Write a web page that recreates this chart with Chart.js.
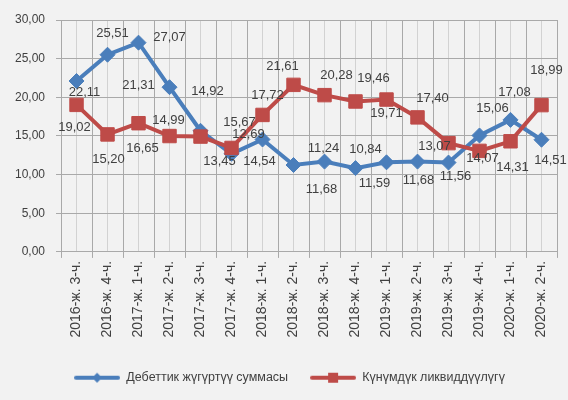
<!DOCTYPE html>
<html>
<head>
<meta charset="utf-8">
<script src="https://cdn.jsdelivr.net/npm/chart.js@4/dist/chart.umd.min.js"></script>
<style>
  html, body { margin: 0; padding: 0; background: #f2f2f2; }
  canvas { display: block; }
</style>
</head>
<body>
<canvas id="liquidityChart" width="568" height="400"></canvas>
<script>
// Chart data
const quarters = [
    '2016-ж. 3-ч.', '2016-ж. 4-ч.', '2017-ж. 1-ч.', '2017-ж. 2-ч.',
    '2017-ж. 3-ч.', '2017-ж. 4-ч.', '2018-ж. 1-ч.', '2018-ж. 2-ч.',
    '2018-ж. 3-ч.', '2018-ж. 4-ч.', '2019-ж. 1-ч.', '2019-ж. 2-ч.',
    '2019-ж. 3-ч.', '2019-ж. 4-ч.', '2020-ж. 1-ч.', '2020-ж. 2-ч.'
];
const debitTurnover = [22.11, 25.51, 27.07, 21.31, 15.67, 12.69, 14.54, 11.24,
                       11.68, 10.84, 11.59, 11.68, 11.56, 15.06, 17.08, 14.51];
const dailyLiquidity = [19.02, 15.20, 16.65, 14.99, 14.92, 13.45, 17.72, 21.61,
                        20.28, 19.46, 19.71, 17.40, 14.07, 13.07, 14.31, 18.99];
const yMin = 0, yMax = 30, yStep = 5;

// where each value label sits relative to its point (px), like the hand-moved labels in the original
const debitLabelShift = [[8, 11], [5, -21], [31, -5], [-31, -2], [39, -8], [17, -19], [-3, 22], [30, -17],
                         [-3, 28], [10, -19], [-12, 21], [1, 19], [7, 14], [13, -27], [4, -27], [9, 21]];
const liquidityLabelShift = [[-2, 23], [1, 25], [4, 25], [-1, -16], [7, -45], [-12, 13], [5, -20], [-11, -18],
                             [12, -20], [18, -23], [0, 14], [15, -19], [34, 15], [-45, -4], [2, 26], [5, -35]];

const BLUE = '#4a7ebb';
const RED = '#be4b48';
const TEXT = '#404040';
const FONT = "'Liberation Sans', Arial, sans-serif";

const fmt = v => v.toFixed(2).replace('.', ',');

// legend icon: line with marker in the middle
function legendIcon(color, shape) {
    const c = document.createElement('canvas');
    c.width = 46; c.height = 14;
    const g = c.getContext('2d');
    g.strokeStyle = color; g.lineWidth = 4; g.lineCap = 'round';
    g.beginPath(); g.moveTo(2, 7); g.lineTo(44, 7); g.stroke();
    g.fillStyle = color;
    if (shape === 'diamond') {
        g.beginPath(); g.moveTo(23, 2); g.lineTo(28, 7); g.lineTo(23, 12); g.lineTo(18, 7); g.closePath(); g.fill();
    } else {
        g.fillRect(18, 2, 10, 10);
    }
    return c;
}
const legendIcons = [legendIcon(BLUE, 'diamond'), legendIcon(RED, 'square')];

// value labels
const valueLabels = {
    id: 'valueLabels',
    afterLayout(chart) {
        // legend in the original sits a little right of centre
        chart.legend.left += 9;
        chart.legend.right += 9;
    },
    afterDatasetsDraw(chart) {
        const ctx = chart.ctx;
        const shifts = [debitLabelShift, liquidityLabelShift];
        ctx.save();
        ctx.font = '13px ' + FONT;
        ctx.fillStyle = TEXT;
        ctx.textAlign = 'center';
        ctx.textBaseline = 'middle';
        chart.data.datasets.forEach((ds, i) => {
            chart.getDatasetMeta(i).data.forEach((pt, j) => {
                const s = shifts[i][j];
                ctx.fillText(fmt(ds.data[j]), pt.x + s[0], pt.y + s[1]);
            });
        });
        ctx.restore();
    }
};

const ctx = document.getElementById('liquidityChart').getContext('2d');
const liquidityChart = new Chart(ctx, {
    type: 'line',
    data: {
        labels: quarters,
        datasets: [{
            label: 'Дебеттик жүгүртүү суммасы',
            data: debitTurnover,
            borderColor: BLUE,
            backgroundColor: BLUE,
            borderWidth: 4,
            pointStyle: 'rectRot',
            pointRadius: 7.5,
            pointBorderWidth: 1,
            order: 2
        }, {
            label: 'Күнүмдүк ликвиддүүлүгү',
            data: dailyLiquidity,
            borderColor: RED,
            backgroundColor: RED,
            borderWidth: 4,
            pointStyle: 'rect',
            pointRadius: 9.5,
            pointBorderWidth: 1,
            order: 1
        }]
    },
    options: {
        responsive: false,
        animation: false,
        layout: { padding: { top: 20, right: 11, left: 4, bottom: 6 } },
        scales: {
            x: {
                offset: true,
                afterFit: s => { s.height += 9; },
                grid: { offset: true, color: '#a9a9a9', tickColor: '#a9a9a9', tickLength: 6 },
                border: { color: '#a9a9a9' },
                ticks: {
                    autoSkip: false, minRotation: 90, maxRotation: 90,
                    color: TEXT, font: { family: FONT, size: 14 }, padding: 3
                }
            },
            xc: {
                type: 'category',
                labels: quarters,
                position: 'top',
                offset: true,
                grid: { offset: false, color: '#d2d2d2', drawTicks: false },
                border: { display: false },
                ticks: { display: false }
            },
            y: {
                min: yMin, max: yMax,
                grid: { color: '#a9a9a9', tickColor: '#a9a9a9', tickLength: 5 },
                border: { color: '#a9a9a9' },
                ticks: {
                    stepSize: yStep,
                    callback: v => fmt(v),
                    color: TEXT, font: { family: FONT, size: 12 }, padding: 11
                }
            }
        },
        plugins: {
            tooltip: { enabled: false },
            legend: {
                position: 'bottom',
                labels: {
                    usePointStyle: true,
                    pointStyleWidth: 46,
                    padding: 22,
                    color: TEXT,
                    font: { family: FONT, size: 12.5 },
                    sort: (a, b) => a.datasetIndex - b.datasetIndex,
                    generateLabels(chart) {
                        return Chart.defaults.plugins.legend.labels.generateLabels(chart).map(item => {
                            item.pointStyle = legendIcons[item.datasetIndex];
                            return item;
                        });
                    }
                }
            }
        }
    },
    plugins: [valueLabels]
});
</script>
</body>
</html>
